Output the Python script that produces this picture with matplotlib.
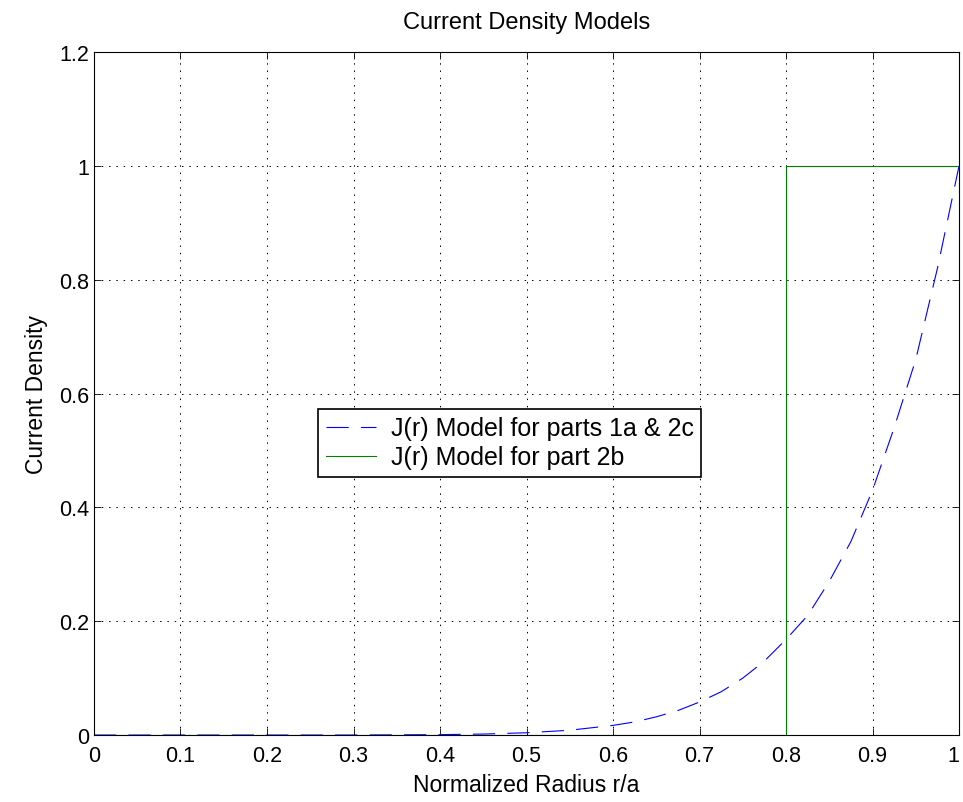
import matplotlib
matplotlib.use('Agg')
import matplotlib.pyplot as plt

plt.rcParams['font.family'] = ['Liberation Sans', 'DejaVu Sans']

# J(r) model for parts 1a & 2c
r_a = [0.0, 0.1, 0.2, 0.3, 0.4, 0.45, 0.5, 0.55, 0.6, 0.625, 0.65, 0.675, 0.7,
       0.725, 0.75, 0.775, 0.8, 0.825, 0.85, 0.875, 0.9, 0.925, 0.95, 0.975, 1.0]
j_a = [0.0, 0.0, 0.0, 0.0, 0.0007, 0.0017, 0.004, 0.0084, 0.017, 0.023, 0.032,
       0.043, 0.058, 0.076, 0.10, 0.13, 0.168, 0.21, 0.27, 0.34, 0.43, 0.54,
       0.66, 0.82, 1.0]

# J(r) model for part 2b (step)
r_b = [0.0, 0.8, 0.8, 1.0]
j_b = [0.0, 0.0, 1.0, 1.0]

xticks = [0, 0.1, 0.2, 0.3, 0.4, 0.5, 0.6, 0.7, 0.8, 0.9, 1]
xticklabels = ['0', '0.1', '0.2', '0.3', '0.4', '0.5', '0.6', '0.7', '0.8', '0.9', '1']
yticks = [0, 0.2, 0.4, 0.6, 0.8, 1.0, 1.2]
yticklabels = ['0', '0.2', '0.4', '0.6', '0.8', '1', '1.2']

fig = plt.figure(figsize=(9.63, 8.03), dpi=100)
ax = fig.add_axes([0.0976, 0.0834, 0.8983, 0.8506])

ax.plot(r_a, j_a, color='#0000ff', lw=0.8, dashes=(20, 11),
        label='J(r) Model for parts 1a & 2c')
ax.plot(r_b, j_b, color='#008000', lw=0.8, label='J(r) Model for part 2b')

ax.set_xlim(0, 1)
ax.set_ylim(0, 1.2)
ax.set_xticks(xticks)
ax.set_xticklabels(xticklabels)
ax.set_yticks(yticks)
ax.set_yticklabels(yticklabels)
ax.tick_params(direction='in', top=True, right=True, labelsize=15.5, length=5, width=0.6)
ax.tick_params(axis='x', pad=7)
ax.get_xticklabels()[-1].set_horizontalalignment('right')
ax.grid(True, color='black', linestyle=(0, (1.5, 6)), lw=0.7)
for s in ax.spines.values():
    s.set_linewidth(0.8)

ax.set_title('Current Density Models', fontsize=17, pad=17)
ax.set_xlabel('Normalized Radius r/a', fontsize=16.5, labelpad=5)
ax.set_ylabel('Current Density', fontsize=16.5, labelpad=8)

leg = ax.legend(loc='lower left', bbox_to_anchor=(0.259, 0.378), fontsize=18,
                fancybox=False, framealpha=1, edgecolor='black',
                handlelength=2.0, handletextpad=0.6, borderpad=0.3,
                labelspacing=0.2, borderaxespad=0)
leg.get_frame().set_linewidth(1.2)

fig.savefig('out.png', dpi=100)
